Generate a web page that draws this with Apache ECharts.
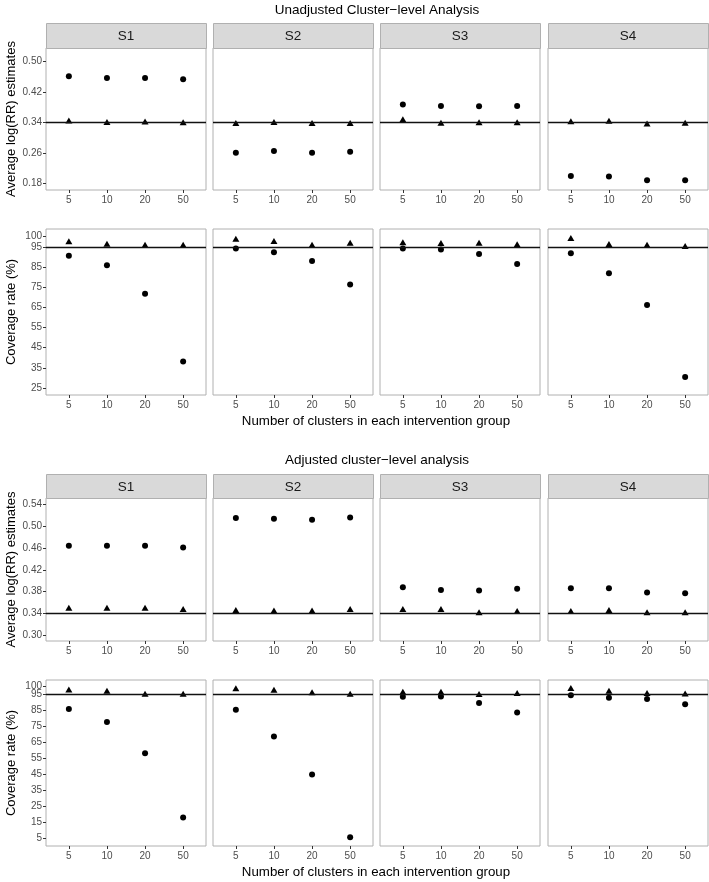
<!DOCTYPE html>
<html>
<head>
<meta charset="utf-8">
<script src="https://cdn.jsdelivr.net/npm/echarts@6/dist/echarts.min.js"></script>
<style>html,body{margin:0;padding:0;background:#fff}#c{width:709px;height:882px}</style>
</head>
<body>
<div id="c"></div>
<script>
// ---- data ----
const xLabels = ['5', '10', '20', '50'];
const panels = ['S1', 'S2', 'S3', 'S4'];

const unadjEstCircle = [
  [0.462, 0.457, 0.457, 0.454],
  [0.261, 0.266, 0.261, 0.264],
  [0.388, 0.384, 0.383, 0.384],
  [0.200, 0.199, 0.189, 0.189]
];
const unadjEstTri = [
  [0.346, 0.342, 0.343, 0.341],
  [0.339, 0.342, 0.339, 0.339],
  [0.349, 0.340, 0.341, 0.341],
  [0.344, 0.345, 0.338, 0.340]
];
const unadjCovCircle = [
  [90.6, 85.8, 71.7, 38.2],
  [94.1, 92.3, 88.0, 76.3],
  [94.1, 93.7, 91.4, 86.5],
  [91.8, 81.9, 66.2, 30.5]
];
const unadjCovTri = [
  [97.7, 96.5, 96.0, 96.0],
  [99.0, 97.9, 96.0, 97.0],
  [97.2, 96.9, 97.0, 96.2],
  [99.3, 96.4, 96.0, 95.4]
];
const adjEstCircle = [
  [0.464, 0.464, 0.464, 0.461],
  [0.515, 0.514, 0.512, 0.516],
  [0.388, 0.383, 0.382, 0.385],
  [0.386, 0.386, 0.378, 0.377]
];
const adjEstTri = [
  [0.350, 0.350, 0.350, 0.348],
  [0.346, 0.345, 0.345, 0.348],
  [0.348, 0.348, 0.342, 0.344],
  [0.344, 0.346, 0.342, 0.342]
];
const adjCovCircle = [
  [86.0, 77.9, 58.4, 18.2],
  [85.6, 68.9, 45.1, 5.8],
  [93.7, 93.9, 89.8, 83.9],
  [94.6, 93.1, 92.3, 89.1]
];
const adjCovTri = [
  [98.3, 97.5, 95.6, 95.6],
  [99.0, 98.1, 96.5, 95.6],
  [96.9, 96.9, 95.4, 96.0],
  [99.2, 97.5, 96.0, 95.8]
];

const unadjEstTicks = [0.18, 0.26, 0.34, 0.42, 0.50];
const unadjCovTicks = [25, 35, 45, 55, 65, 75, 85, 95, 100];
const adjEstTicks = [0.30, 0.34, 0.38, 0.42, 0.46, 0.50, 0.54];
const adjCovTicks = [5, 15, 25, 35, 45, 55, 65, 75, 85, 95, 100];

const trueEst = 0.34;
const nominalCov = 95;

const titleTop = 'Unadjusted Cluster\u2212level Analysis';
const titleBottom = 'Adjusted cluster\u2212level analysis';
const xTitle = 'Number of clusters in each intervention group';
const yTitleEst = 'Average log(RR) estimates';
const yTitleCov = 'Coverage rate (%)';

// ---- layout ----
const FONT = '"Liberation Sans", Arial, Helvetica, sans-serif';
const colLeft = [46, 213, 380, 548];
const colW = 160;
const rows = [
  {top: 48, bottom: 190, min: 0.1635, max: 0.536, ticks: unadjEstTicks, circ: unadjEstCircle, tri: unadjEstTri, ref: trueEst, name: yTitleEst, dec: 2, cov: false},
  {top: 229, bottom: 395, min: 21.6, max: 103.8, ticks: unadjCovTicks, circ: unadjCovCircle, tri: unadjCovTri, ref: nominalCov, name: yTitleCov, dec: 0, cov: true},
  {top: 498, bottom: 641, min: 0.289, max: 0.552, ticks: adjEstTicks, circ: adjEstCircle, tri: adjEstTri, ref: trueEst, name: yTitleEst, dec: 2, cov: false},
  {top: 680, bottom: 846, min: 0.4, max: 104.2, ticks: adjCovTicks, circ: adjCovCircle, tri: adjCovTri, ref: nominalCov, name: yTitleCov, dec: 0, cov: true}
];
const strips = [{top: 23, bottom: 48}, {top: 474, bottom: 498}];

const grids = [], xAxes = [], yAxes = [], series = [], graphics = [];
const tickStyle = {color: '#333', width: 1};
const labelStyle = {color: '#4d4d4d', fontSize: 10, fontFamily: FONT, margin: 4, hideOverlap: false};
let gi = 0;
rows.forEach((r, ri) => {
  // split 95 off into its own axis so that the close 95/100 labels are both drawn
  const mainTicks = r.cov ? r.ticks.filter(t => t !== nominalCov) : r.ticks;
  for (let c = 0; c < 4; c++) {
    grids.push({left: colLeft[c], top: r.top, width: colW, height: r.bottom - r.top,
      show: true, borderColor: '#b0b0b0', borderWidth: 1, backgroundColor: '#fff', containLabel: false});
    xAxes.push({type: 'value', gridIndex: gi, min: 0.4, max: 4.6,
      axisLine: {show: false}, splitLine: {show: false},
      axisTick: {show: true, length: 3, lineStyle: tickStyle, customValues: [1, 2, 3, 4]},
      axisLabel: Object.assign({show: true, customValues: [1, 2, 3, 4], formatter: v => xLabels[Math.round(v) - 1]}, labelStyle, {margin: 5})
    });
    const yIdx = yAxes.length;
    yAxes.push({type: 'value', gridIndex: gi, min: r.min, max: r.max, position: 'left',
      axisLine: {show: false}, splitLine: {show: false},
      axisTick: {show: c === 0, length: 3, lineStyle: tickStyle, customValues: mainTicks},
      axisLabel: Object.assign({show: c === 0, customValues: mainTicks, formatter: v => v.toFixed(r.dec)}, labelStyle),
      name: c === 0 ? r.name : '', nameLocation: 'middle', nameRotate: 90, nameGap: 28,
      nameTextStyle: {fontSize: 13, color: '#000', fontFamily: FONT}
    });
    if (r.cov && c === 0) {
      yAxes.push({type: 'value', gridIndex: gi, min: r.min, max: r.max, position: 'left', offset: 0,
        axisLine: {show: false}, splitLine: {show: false},
        axisTick: {show: true, length: 3, lineStyle: tickStyle, customValues: [nominalCov]},
        axisLabel: Object.assign({show: true, customValues: [nominalCov], formatter: v => v.toFixed(0)}, labelStyle)
      });
    }
    series.push({type: 'scatter', xAxisIndex: gi, yAxisIndex: yIdx, symbol: 'circle', symbolSize: 6,
      itemStyle: {color: '#000', opacity: 1}, silent: true, z: 3,
      data: r.circ[c].map((v, i) => [i + 1, v])});
    series.push({type: 'scatter', xAxisIndex: gi, yAxisIndex: yIdx, symbol: 'triangle', symbolSize: [7, 6],
      itemStyle: {color: '#000', opacity: 1}, silent: true, z: 3,
      data: r.tri[c].map((v, i) => [i + 1, v]),
      markLine: {silent: true, symbol: 'none', label: {show: false}, animation: false,
        lineStyle: {color: '#111', width: 1.3, type: 'solid'}, data: [{yAxis: r.ref}]}
    });
    gi++;
  }
});

strips.forEach(s => {
  for (let c = 0; c < 4; c++) {
    graphics.push({type: 'rect', shape: {x: colLeft[c] + 0.5, y: s.top + 0.5, width: colW, height: s.bottom - s.top},
      style: {fill: '#d9d9d9', stroke: '#b0b0b0', lineWidth: 1}, silent: true});
    graphics.push({type: 'text', x: colLeft[c] + colW / 2, y: (s.top + s.bottom) / 2 + 1,
      style: {text: panels[c], fill: '#1a1a1a', font: '13.5px ' + FONT, textAlign: 'center', textVerticalAlign: 'middle'}, silent: true});
  }
});

const texts = [
  {t: titleTop, x: 377, y: 10, size: 13.5},
  {t: titleBottom, x: 377, y: 460, size: 13.5},
  {t: xTitle, x: 376, y: 421, size: 13.3},
  {t: xTitle, x: 376, y: 872, size: 13.3}
];
texts.forEach(o => graphics.push({type: 'text', x: o.x, y: o.y,
  style: {text: o.t, fill: '#000', font: o.size + 'px ' + FONT, textAlign: 'center', textVerticalAlign: 'middle'}, silent: true}));

const chart = echarts.init(document.getElementById('c'), null, {renderer: 'canvas'});
chart.setOption({
  animation: false,
  backgroundColor: '#fff',
  grid: grids, xAxis: xAxes, yAxis: yAxes, series: series, graphic: graphics
});
</script>
</body>
</html>
